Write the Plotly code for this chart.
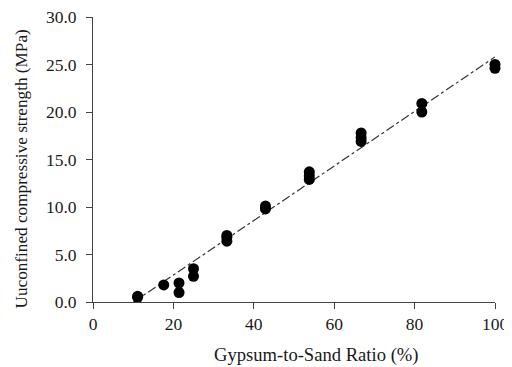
import plotly.graph_objects as go

ratio = [11.1, 11.1, 17.6, 21.4, 21.4, 25.0, 25.0, 33.3, 33.3, 33.3,
         42.9, 42.9, 53.8, 53.8, 53.8, 66.7, 66.7, 66.7, 81.8, 81.8, 100.0, 100.0]
ucs = [0.5, 0.6, 1.8, 2.0, 1.0, 3.5, 2.7, 7.0, 6.8, 6.4,
       10.1, 9.8, 13.7, 13.3, 12.9, 17.8, 17.3, 16.9, 20.9, 20.0, 25.0, 24.6]
trend_x = [10.0, 100.0]
trend_y = [-0.03, 25.8]
x_ticks = [0, 20, 40, 60, 80, 100]
y_ticks = [0, 5, 10, 15, 20, 25, 30]

fig = go.Figure()
fig.add_trace(go.Scatter(x=trend_x, y=trend_y, mode="lines",
                         line=dict(color="#333333", width=1.2, dash="dashdot"),
                         showlegend=False, cliponaxis=False))
fig.add_trace(go.Scatter(x=ratio, y=ucs, mode="markers",
                         marker=dict(color="black", size=11),
                         showlegend=False, cliponaxis=False))

FAM = "Liberation Serif"
font = dict(family=FAM, size=17.5, color="#1a1a1a")
fig.update_layout(
    width=504, height=359,
    margin=dict(l=85, r=17, t=9, b=65, autoexpand=False),
    paper_bgcolor="white", plot_bgcolor="white",
    font=font,
    xaxis=dict(range=[0, 100], tickvals=x_ticks, automargin=False,
               tickfont=font, ticklabeloverflow="allow",
               showgrid=False, zeroline=False, showline=True, linecolor="#444444",
               linewidth=1, ticks="outside", ticklen=6, tickcolor="#444444"),
    yaxis=dict(range=[0, 30], tickvals=y_ticks, tickformat=".1f",
               automargin=False, tickfont=font, ticklabelstandoff=6,
               ticklabeloverflow="allow",
               showgrid=False, zeroline=False, showline=True, linecolor="#444444",
               linewidth=1, ticks="outside", ticklen=6, tickcolor="#444444"),
    annotations=[
        dict(text="Gypsum-to-Sand Ratio (%)", xref="paper", yref="paper",
             x=0.555, y=0, xanchor="center", yanchor="middle", yshift=-53,
             showarrow=False, font=dict(family=FAM, size=18.6, color="#1a1a1a")),
        dict(text="Uuconfined compressive strength (MPa)", xref="paper", yref="paper",
             x=0, y=0.465, xanchor="center", yanchor="middle", xshift=-72,
             textangle=-90, showarrow=False,
             font=dict(family=FAM, size=17.2, color="#1a1a1a")),
    ],
)
fig.write_html("out.html")
